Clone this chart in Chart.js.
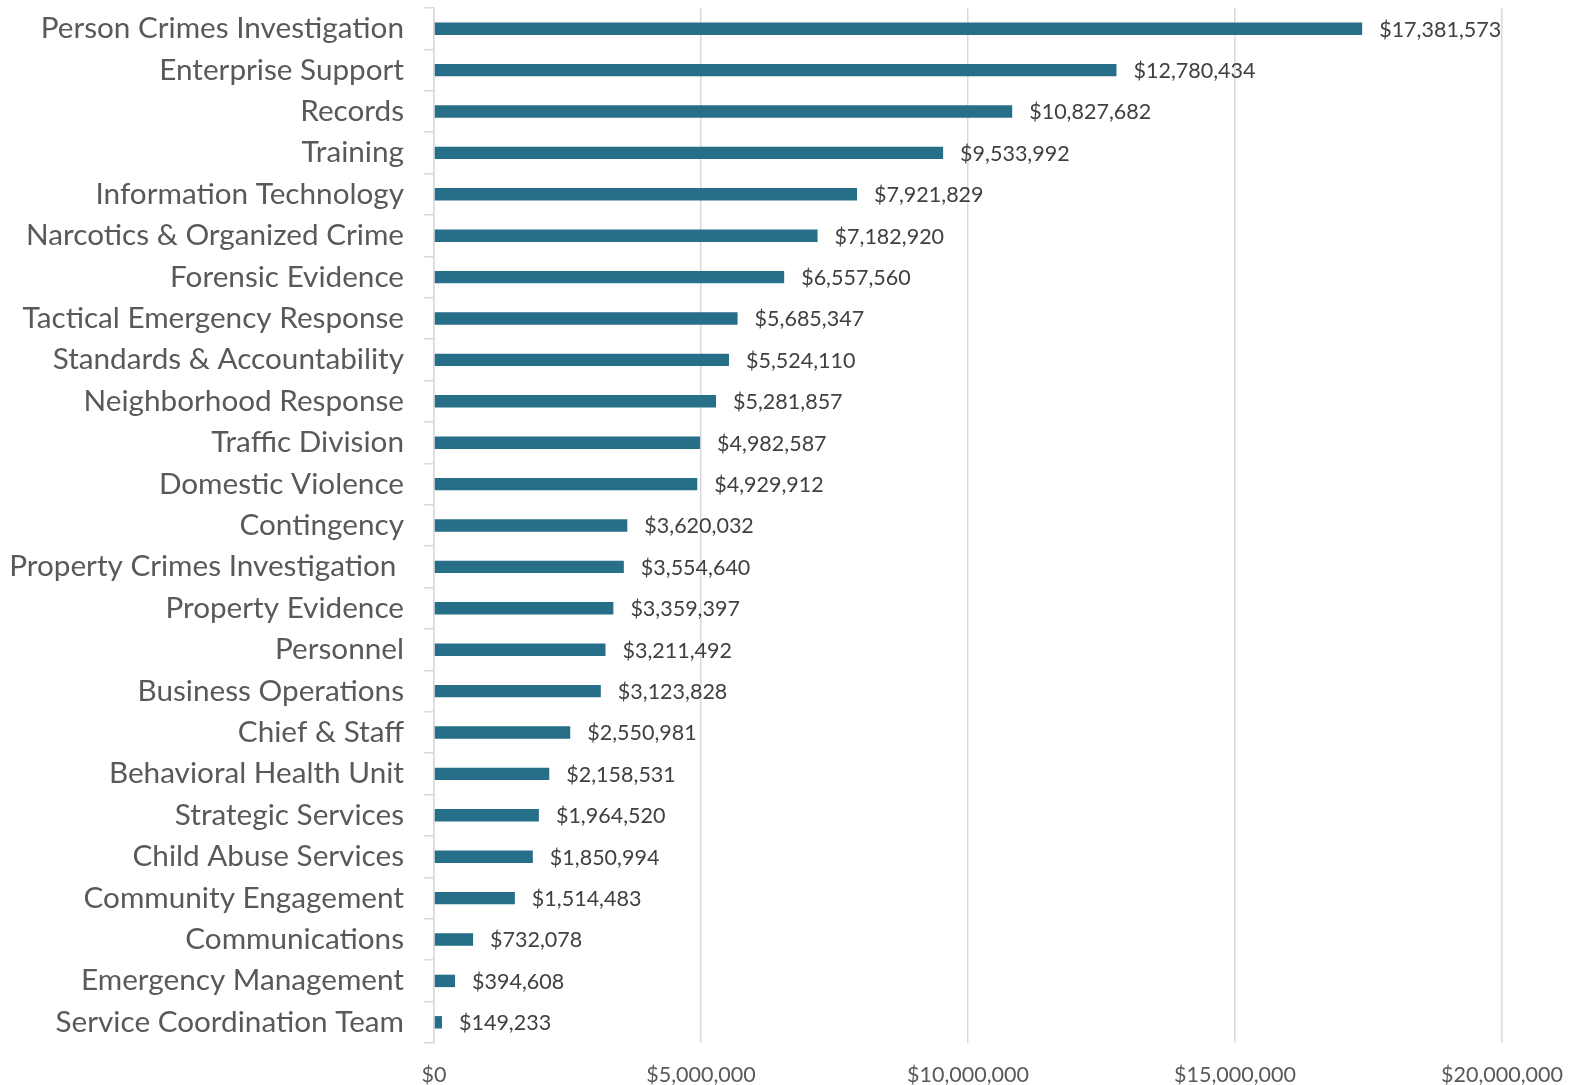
<!DOCTYPE html>
<html>
<head>
<meta charset="utf-8">
<script src="https://cdn.jsdelivr.net/npm/chart.js@4/dist/chart.umd.min.js"></script>
<style>
  html, body { margin: 0; padding: 0; background: #fff; }
  #wrap { width: 1581px; height: 1085px; }
</style>
</head>
<body>
<div id="wrap"><canvas id="budgetChart"></canvas></div>
<script>
// ===== Data =====
const divisions = [
    'Person Crimes Investigation', 'Enterprise Support', 'Records', 'Training',
    'Information Technology', 'Narcotics & Organized Crime', 'Forensic Evidence',
    'Tactical Emergency Response', 'Standards & Accountability', 'Neighborhood Response',
    'Traffic Division', 'Domestic Violence', 'Contingency', 'Property Crimes Investigation ',
    'Property Evidence', 'Personnel', 'Business Operations', 'Chief & Staff',
    'Behavioral Health Unit', 'Strategic Services', 'Child Abuse Services',
    'Community Engagement', 'Communications', 'Emergency Management', 'Service Coordination Team'
];
const budgets = [
    17381573, 12780434, 10827682, 9533992, 7921829, 7182920, 6557560, 5685347,
    5524110, 5281857, 4982587, 4929912, 3620032, 3554640, 3359397, 3211492,
    3123828, 2550981, 2158531, 1964520, 1850994, 1514483, 732078, 394608, 149233
];
const xTicks = [0, 5000000, 10000000, 15000000, 20000000];

const money = v => '$' + v.toLocaleString('en-US');
const FONT = 'Lato, "Open Sans", sans-serif';

// ===== Value labels at bar ends =====
const valueLabels = {
    id: 'valueLabels',
    afterDatasetsDraw(chart) {
        const ctx = chart.ctx;
        const meta = chart.getDatasetMeta(0);
        ctx.save();
        ctx.font = '21.5px ' + FONT;
        ctx.fillStyle = '#404040';
        ctx.textAlign = 'left';
        ctx.textBaseline = 'middle';
        meta.data.forEach((bar, i) => {
            ctx.fillText(money(budgets[i]), bar.x + 17, bar.y + 1);
        });
        ctx.restore();
    }
};

const ctx1 = document.getElementById('budgetChart').getContext('2d');
const budgetChart = new Chart(ctx1, {
    type: 'bar',
    data: {
        labels: divisions,
        datasets: [{
            data: budgets,
            backgroundColor: '#276E89',
            barPercentage: 0.3,
            categoryPercentage: 1.0
        }]
    },
    options: {
        indexAxis: 'y',
        responsive: true,
        maintainAspectRatio: false,
        animation: false,
        layout: { padding: { top: 8, right: 79, left: 0, bottom: 0 } },
        plugins: { legend: { display: false }, tooltip: { enabled: false } },
        scales: {
            x: {
                min: 0,
                max: 20000000,
                afterBuildTicks: axis => { axis.ticks = xTicks.map(v => ({ value: v })); },
                afterFit: axis => {
                    axis.height = 42;
                    axis.paddingLeft = 0;
                    axis.paddingRight = 0;
                },
                ticks: {
                    color: '#595959',
                    font: { family: FONT, size: 21.5 },
                    padding: 19,
                    callback: v => money(v)
                },
                grid: { color: '#D9D9D9', lineWidth: 1.5, tickLength: 0 },
                border: { display: false }
            },
            y: {
                afterFit: axis => {
                    axis.width = 434;
                    axis.paddingTop = 0;
                    axis.paddingBottom = 0;
                },
                ticks: {
                    color: '#595959',
                    font: { family: FONT, size: 29.7 },
                    padding: 20
                },
                grid: {
                    offset: true,
                    drawOnChartArea: false,
                    color: '#D9D9D9',
                    lineWidth: 1.5,
                    tickLength: 10
                },
                border: { color: '#D9D9D9', width: 1.5 }
            }
        }
    },
    plugins: [valueLabels]
});
</script>
</body>
</html>
